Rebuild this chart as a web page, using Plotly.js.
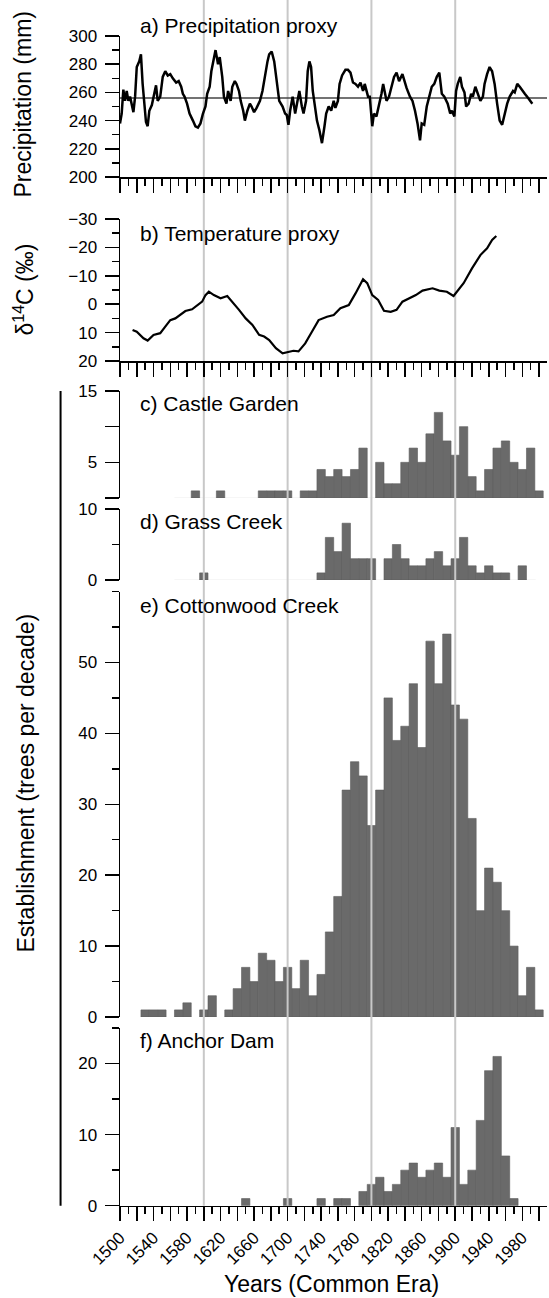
<!DOCTYPE html>
<html><head><meta charset="utf-8">
<script src="https://cdn.plot.ly/plotly-3.0.1.min.js"></script>
<style>html,body{margin:0;padding:0;background:#fff}#chart{width:549px;height:1298px}</style>
</head><body><div id="chart"></div>
<script>
// ---------- data ----------
const precipYears = [
1500,1502,1504,1506,1508,1510,1512,1516,1518,1520,
1523,1525,1527,1529,1531,1533,1535,1538,1541,1543,
1545,1548,1551,1554,1557,1560,1563,1567,1570,1573,
1575,1577,1580,1583,1587,1590,1593,1596,1599,1602,
1604,1607,1609,1612,1614,1617,1619,1622,1624,1627,
1629,1632,1634,1637,1639,1642,1644,1647,1649,1652,
1655,1657,1660,1663,1667,1670,1673,1676,1678,1681,
1684,1687,1690,1694,1697,1699,1701,1703,1706,1709,
1712,1714,1717,1719,1722,1724,1726,1728,1730,1733,
1735,1738,1741,1744,1746,1749,1752,1755,1757,1760,
1762,1765,1769,1772,1775,1778,1781,1784,1787,1790,
1792,1796,1798,1801,1803,1806,1809,1812,1814,1816,
1818,1821,1824,1827,1830,1833,1837,1840,1842,1846,
1849,1852,1855,1858,1860,1863,1866,1869,1872,1875,
1878,1881,1884,1887,1891,1894,1896,1899,1901,1903,
1906,1908,1911,1913,1916,1919,1921,1924,1927,1930,
1933,1935,1938,1941,1944,1947,1950,1953,1956,1959,
1962,1965,1969,1971,1974,1977,1980,1983,1987,1990,
1992];
const precipValues = [
238,245,262,254,261,254,257,246,257,278,
282,287,266,250,239,236,247,251,261,265,
254,257,271,275,272,273,270,267,268,264,
259,257,252,245,240,236,235,238,245,250,
259,264,275,285,290,280,285,271,257,252,
261,254,264,268,266,261,254,247,240,247,
252,250,246,249,254,261,273,282,287,289,
282,268,254,250,245,244,237,247,257,245,
254,261,250,245,254,275,282,278,261,247,
240,233,224,236,245,250,247,254,249,254,
266,272,276,276,274,267,266,264,267,261,
266,257,257,236,245,243,250,259,266,259,
254,257,264,271,274,268,273,266,263,257,
254,247,238,226,238,237,250,257,264,266,
271,274,259,257,252,245,247,243,261,266,
271,264,260,250,252,259,257,264,259,254,
257,266,273,278,275,266,252,240,237,245,
252,257,261,260,266,264,261,259,256,253,
252];
const precipMean = 256;

const tempYears = [
1515,1520,1528,1533,1540,1548,1554,1560,1566,1572,
1578,1586,1592,1598,1602,1606,1612,1620,1628,1634,
1642,1650,1658,1666,1672,1678,1686,1694,1700,1707,
1713,1721,1729,1737,1747,1755,1763,1773,1781,1787,
1790,1795,1801,1808,1815,1823,1830,1837,1845,1853,
1861,1873,1881,1890,1898,1902,1910,1920,1930,1938,
1944,1949];
const tempValues = [
9.1,9.7,12.0,12.8,10.8,10.2,7.9,5.6,5.0,3.8,
2.4,1.8,0.6,-0.9,-3.2,-4.4,-3.2,-2.1,-2.9,-0.9,
2.0,5.0,7.3,10.8,11.4,12.6,15.5,17.3,17.0,16.4,
16.6,13.8,9.7,5.6,4.4,3.8,1.4,0.3,-3.8,-7.4,
-8.8,-7.4,-3.2,-1.5,2.3,2.7,2.0,-0.9,-2.1,-3.2,
-4.8,-5.6,-4.8,-4.4,-2.9,-4.4,-7.4,-12.6,-17.3,-19.7,
-22.6,-24.0];

const decades = [
1500,1510,1520,1530,1540,1550,1560,1570,1580,1590,
1600,1610,1620,1630,1640,1650,1660,1670,1680,1690,
1700,1710,1720,1730,1740,1750,1760,1770,1780,1790,
1800,1810,1820,1830,1840,1850,1860,1870,1880,1890,
1900,1910,1920,1930,1940,1950,1960,1970,1980,1990,
2000];
const castleGarden = [
0,0,0,0,0,0,0,0,0,1,
0,0,1,0,0,0,0,1,1,1,
1,0,1,1,4,3,4,3,4,7,
0,5,2,2,5,7,5,9,12,8,
6,10,3,1,4,7,8,5,4,7,
1];
const grassCreek = [
0,0,0,0,0,0,0,0,0,0,
1,0,0,0,0,0,0,0,0,0,
0,0,0,0,1,6,4,8,3,3,
3,0,3,5,3,2,2,3,4,2,
3,6,2,1,2,1,1,0,2,0,
0];
const cottonwoodCreek = [
0,0,0,1,1,1,0,1,2,0,
1,3,0,1,4,7,5,9,8,5,
7,4,8,3,6,12,17,32,36,34,
27,32,45,39,41,47,38,53,47,54,
44,42,28,15,21,19,15,10,3,7,
1];
const anchorDam = [
0,0,0,0,0,0,0,0,0,0,
0,0,0,0,0,1,0,0,0,0,
1,0,0,0,1,0,1,1,0,2,
3,4,2,3,5,6,4,5,6,4,
11,3,5,12,19,21,7,1,0,0,
0];

const xTickLabels = ['1500','1540','1580','1620','1660','1700','1740','1780','1820','1860','1900','1940','1980'];
const referenceYears = [1600, 1700, 1800, 1900];
const panelLabels = ['a) Precipitation proxy','b) Temperature proxy','c) Castle Garden','d) Grass Creek','e) Cottonwood Creek','f) Anchor Dam'];

// ---------- geometry ----------
const W = 549, H = 1298, L = 119.5, R = 2;
const PW = W - L - R;
const px = p => (p - L) / PW;
const py = p => 1 - p / H;
const dom = (t, b) => [py(b), py(t)];
const FONT = 'Liberation Sans, Arial, Helvetica, sans-serif';

const majorX = []; for (let v = 1500; v <= 2000; v += 20) majorX.push(v);
const minorX = []; for (let v = 1510; v <= 1990; v += 20) minorX.push(v);
const majorXText = majorX.map(v => xTickLabels.includes(String(v)) ? String(v) : ' ');

function xa(anchor, extra) {
  return Object.assign({
    anchor: anchor, domain: [0, 1], range: [1500, 2009.5],
    showline: true, linecolor: '#000', linewidth: 1.5,
    ticks: 'outside', tickmode: 'array', tickvals: majorX, ticktext: majorXText,
    ticklen: 14, tickwidth: 1.5, tickcolor: '#000',
    minor: {tickmode: 'array', tickvals: minorX, ticklen: 7, tickwidth: 1.5, tickcolor: '#000', ticks: 'outside', showgrid: false},
    showgrid: false, zeroline: false, fixedrange: true,
    tickangle: -45, tickfont: {size: 17, color: '#000', family: FONT}
  }, extra || {});
}
function ya(anchor, domain, range, tv, tt, mv, extra) {
  return Object.assign({
    anchor: anchor, domain: domain, range: range,
    showline: true, linecolor: '#000', linewidth: 1.5,
    ticks: 'outside', tickmode: 'array', tickvals: tv, ticktext: tt,
    ticklen: 14, tickwidth: 1.5, tickcolor: '#000',
    minor: {tickmode: 'array', tickvals: mv, ticklen: 7, tickwidth: 1.5, tickcolor: '#000', ticks: 'outside', showgrid: false},
    showgrid: false, zeroline: false, fixedrange: true,
    ticklabelstandoff: 4,
    tickfont: {size: 17, color: '#000', family: FONT}
  }, extra || {});
}

// empty decades are simply not drawn
const nz = arr => arr.map(v => (v > 0 ? v : null));
const barStyle = {color: '#6a6a6a', line: {color: '#5c5c5c', width: 0.6}};
const traces = [
  {type: 'scatter', mode: 'lines', x: precipYears, y: precipValues, xaxis: 'x', yaxis: 'y', line: {color: '#000', width: 2.5}, hoverinfo: 'skip'},
  {type: 'scatter', mode: 'lines', x: tempYears, y: tempValues, xaxis: 'x2', yaxis: 'y2', line: {color: '#000', width: 2.2}, hoverinfo: 'skip'},
  {type: 'bar', x: decades, y: nz(castleGarden), width: 10, xaxis: 'x3', yaxis: 'y3', marker: barStyle},
  {type: 'bar', x: decades, y: nz(grassCreek), width: 10, xaxis: 'x4', yaxis: 'y4', marker: barStyle},
  {type: 'bar', x: decades, y: nz(cottonwoodCreek), width: 10, xaxis: 'x5', yaxis: 'y5', marker: barStyle},
  {type: 'bar', x: decades, y: nz(anchorDam), width: 10, xaxis: 'x6', yaxis: 'y6', marker: barStyle}
];

const panelPx = {a: [36, 177], b: [219, 361], c: [391, 498], d: [509, 580], e: [591.5, 1017], f: [1028, 1205.7]};

const shapes = [];
referenceYears.forEach(yr => {
  shapes.push({type: 'line', xref: 'x', yref: 'paper', x0: yr, x1: yr, y0: py(391), y1: 1, line: {color: '#c8c8c8', width: 2}, layer: 'below'});
  shapes.push({type: 'line', xref: 'x', yref: 'paper', x0: yr, x1: yr, y0: py(panelPx.f[1]), y1: py(391), line: {color: '#c8c8c8', width: 2}, layer: 'above'});
});
shapes.push({type: 'line', xref: 'x domain', yref: 'y', x0: 0, x1: 1, y0: precipMean, y1: precipMean, line: {color: '#444', width: 1.5}, layer: 'below'});
shapes.push({type: 'line', xref: 'paper', yref: 'paper', x0: px(60), x1: px(60), y0: py(panelPx.f[1]), y1: py(panelPx.c[0]), line: {color: '#000', width: 2}});
shapes.push({type: 'line', xref: 'x3', yref: 'y3', x0: 1565, x1: 2005, y0: 0, y1: 0, line: {color: '#ececec', width: 1}, layer: 'below'});
shapes.push({type: 'line', xref: 'x4', yref: 'y4', x0: 1565, x1: 1996, y0: 0, y1: 0, line: {color: '#ececec', width: 1}, layer: 'below'});

const labelCenters = [25.7, 233.7, 403, 522, 605.7, 1040.7];
const annotations = panelLabels.map((t, i) => ({
  text: t, xref: 'paper', yref: 'paper', x: px(138), y: py(labelCenters[i]),
  xanchor: 'left', yanchor: 'middle', showarrow: false, font: {size: 21, color: '#000', family: FONT}
}));
const tfont = {size: 23, color: '#000', family: FONT};
annotations.push({text: 'Precipitation (mm)', xref: 'paper', yref: 'paper', x: px(22), y: py(104), textangle: -90, xanchor: 'center', yanchor: 'middle', showarrow: false, font: tfont});
annotations.push({text: 'δ<sup>14</sup>C (‰)', xref: 'paper', yref: 'paper', x: px(23), y: py(290), textangle: -90, xanchor: 'center', yanchor: 'middle', showarrow: false, font: tfont});
annotations.push({text: 'Establishment (trees per decade)', xref: 'paper', yref: 'paper', x: px(25), y: py(783), textangle: -90, xanchor: 'center', yanchor: 'middle', showarrow: false, font: tfont});
annotations.push({text: 'Years (Common Era)', xref: 'paper', yref: 'paper', x: px(331), y: py(1284), xanchor: 'center', yanchor: 'middle', showarrow: false, font: tfont});

const layout = {
  width: W, height: H,
  margin: {l: L, r: R, t: 0, b: 0, pad: 0},
  paper_bgcolor: '#fff', plot_bgcolor: 'rgba(0,0,0,0)',
  showlegend: false, bargap: 0,
  font: {family: FONT, color: '#000'},
  xaxis: xa('y', {showticklabels: false}),
  xaxis2: xa('y2', {showticklabels: false}),
  xaxis3: xa('y3', {visible: false}),
  xaxis4: xa('y4', {visible: false}),
  xaxis5: xa('y5', {visible: false}),
  xaxis6: xa('y6'),
  yaxis: ya('x', dom(...panelPx.a), [200, 300], [200,220,240,260,280,300], ['200','220','240','260','280','300'], [210,230,250,270,290]),
  yaxis2: ya('x2', dom(...panelPx.b), [20, -30], [-30,-20,-10,0,10,20], ['−30','−20','−10','0','10','20'], [-25,-15,-5,5,15]),
  yaxis3: ya('x3', dom(...panelPx.c), [0, 15], [0,5,10,15], [' ','5',' ','15'], []),
  yaxis4: ya('x4', dom(...panelPx.d), [0, 10], [0,10], ['0','10'], [5]),
  yaxis5: ya('x5', dom(...panelPx.e), [0, 60], [0,10,20,30,40,50], ['0','10','20','30','40','50'], [5,15,25,35,45,55,60]),
  yaxis6: ya('x6', dom(...panelPx.f), [0, 25], [0,10,20], ['0','10','20'], [5,15,25]),
  shapes: shapes, annotations: annotations
};

Plotly.newPlot('chart', traces, layout, {staticPlot: true, displayModeBar: false});
</script></body></html>
